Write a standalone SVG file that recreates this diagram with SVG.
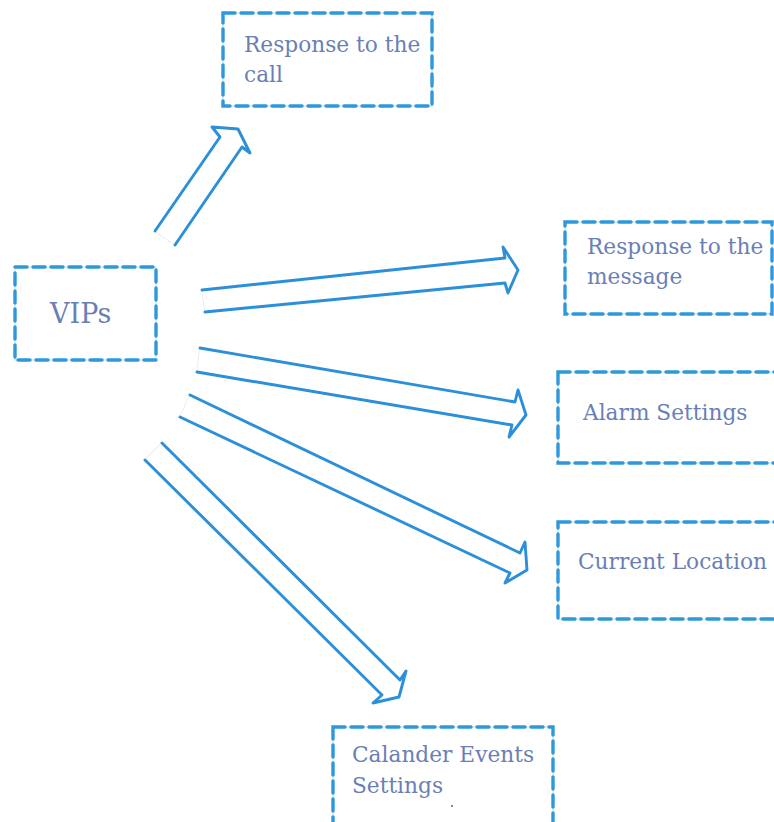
<svg xmlns="http://www.w3.org/2000/svg" width="774" height="822" viewBox="0 0 774 822">
  <style>
    .guide { fill: none; stroke: #dcdcdc; stroke-width: 1; }
    .box { fill: none; stroke: #2d98dc; stroke-width: 3.4; stroke-dasharray: 12 6; stroke-linecap: round; }
    .label { font-family: "DejaVu Serif", "Liberation Serif", serif; font-size: 21.7px; fill: #6a7fb6; }
    .big { font-size: 27px; }
    .arrow { fill: #ffffff; stroke: #2b8fd9; stroke-width: 2.9; stroke-linejoin: round; stroke-linecap: round; }
    .tail { stroke: #e2e2e2; stroke-width: 1.2; }
  </style>
  <rect width="774" height="822" fill="#ffffff"/>

  <!-- connectors: hollow block arrows from VIPs -->
  <g id="connectors">
    <g id="to-call">
      <line class="tail" x1="155" y1="231" x2="175" y2="245"/>
      <path class="arrow" d="M155 231 L220 137 L212 127 L238 129 L250 153 L242 147 L175 245"/>
    </g>
    <g id="to-message">
      <line class="tail" x1="202" y1="290" x2="205" y2="312"/>
      <path class="arrow" d="M202 290 L505 258 L503 247 L518 270 L508 293 L505 283 L205 312"/>
    </g>
    <g id="to-alarm">
      <line class="tail" x1="200" y1="348" x2="197" y2="372"/>
      <path class="arrow" d="M200 348 L515 402 L518 390 L526 415 L509 437 L512 425 L197 372"/>
    </g>
    <g id="to-location">
      <line class="tail" x1="190" y1="395" x2="180" y2="417"/>
      <path class="arrow" d="M190 395 L520 553 L525 542 L527 570 L505 583 L510 573 L180 417"/>
    </g>
    <g id="to-calendar">
      <line class="tail" x1="162" y1="443" x2="145" y2="460"/>
      <path class="arrow" d="M162 443 L400 680 L406 671 L399 697 L373 703 L382 695 L145 460"/>
    </g>
  </g>

  <!-- nodes -->
  <g id="node-vips">
    <rect class="guide" x="15" y="267" width="141" height="93"/>
    <rect class="box" x="15" y="267" width="141" height="93"/>
    <text class="label big" x="50" y="323">VIPs</text>
  </g>

  <g id="node-call">
    <rect class="guide" x="223" y="13" width="209" height="93"/>
    <rect class="box" x="223" y="13" width="209" height="93"/>
    <text class="label" x="244" y="52">Response to the</text>
    <text class="label" x="244" y="82">call</text>
  </g>

  <g id="node-message">
    <rect class="guide" x="565" y="222" width="207" height="92"/>
    <rect class="box" x="565" y="222" width="207" height="92"/>
    <text class="label" x="587" y="254">Response to the</text>
    <text class="label" x="587" y="284">message</text>
  </g>

  <g id="node-alarm">
    <rect class="guide" x="558" y="372" width="230" height="91"/>
    <rect class="box" x="558" y="372" width="230" height="91"/>
    <text class="label" x="583" y="420">Alarm Settings</text>
  </g>

  <g id="node-location">
    <rect class="guide" x="558" y="522" width="230" height="97"/>
    <rect class="box" x="558" y="522" width="230" height="97"/>
    <text class="label" x="578" y="569">Current Location</text>
  </g>

  <g id="node-calendar">
    <rect class="guide" x="333" y="727" width="220" height="110"/>
    <rect class="box" x="333" y="727" width="220" height="110"/>
    <text class="label" x="352" y="762">Calander Events</text>
    <text class="label" x="352" y="793">Settings</text>
    <circle cx="452" cy="806" r="0.9" fill="#555555"/>
  </g>
</svg>
